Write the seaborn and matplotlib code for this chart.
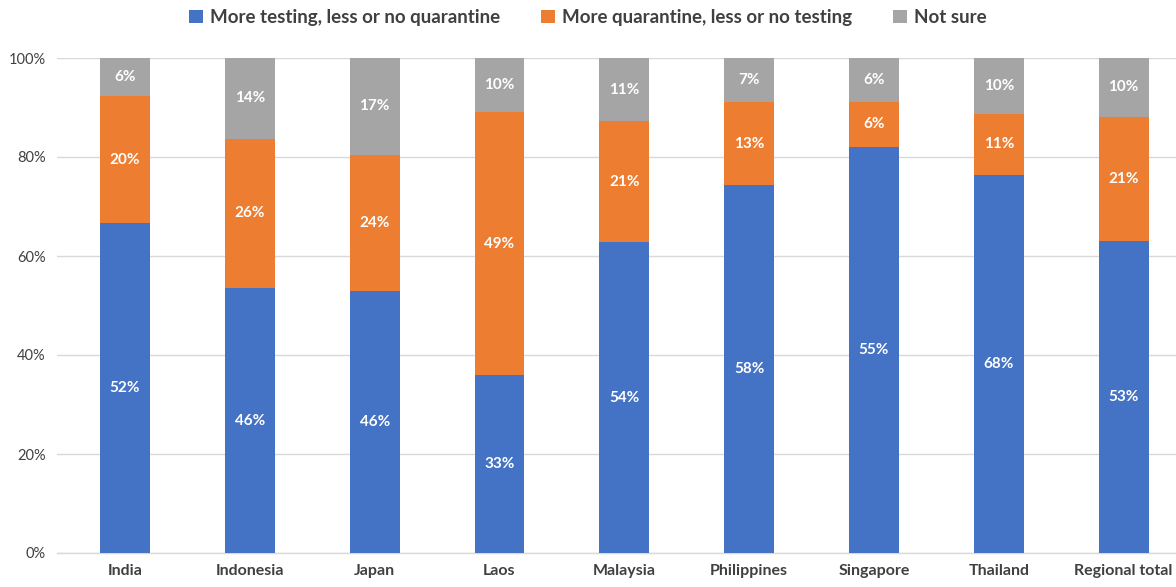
import numpy as np
import pandas as pd
import matplotlib
matplotlib.use("Agg")
import matplotlib.pyplot as plt
import seaborn as sns
from matplotlib.patches import Patch

# Data (labels as printed; bars are scaled so each column sums to 100%)
countries = ["India", "Indonesia", "Japan", "Laos", "Malaysia",
             "Philippines", "Singapore", "Thailand", "Regional total"]
more_testing = [52, 46, 46, 33, 54, 58, 55, 68, 53]
more_quarantine = [20, 26, 24, 49, 21, 13, 6, 11, 21]
not_sure = [6, 14, 17, 10, 11, 7, 6, 10, 10]

series_names = ["More testing, less or no quarantine",
                "More quarantine, less or no testing",
                "Not sure"]
colors = ["#4472C4", "#ED7D31", "#A5A5A5"]

df = pd.DataFrame({
    "country": countries,
    "test": more_testing,
    "quar": more_quarantine,
    "unsure": not_sure,
})
total = df["test"] + df["quar"] + df["unsure"]
df["p_test"] = df["test"] / total * 100
df["p_quar"] = df["quar"] / total * 100
df["p_unsure"] = df["unsure"] / total * 100
df["top_test"] = df["p_test"]
df["top_quar"] = df["p_test"] + df["p_quar"]
df["top_unsure"] = df["top_quar"] + df["p_unsure"]

sns.set_style("white")
plt.rcParams["font.family"] = ["Lato", "DejaVu Sans"]

fig = plt.figure(figsize=(11.76, 5.87), dpi=100)
ax = fig.add_axes([57 / 1176, 34 / 587, 1119 / 1176, 495 / 587])

w = 0.40
# draw from tallest layer down so each stack shows correctly
for col, c in zip(["top_unsure", "top_quar", "top_test"], colors[::-1]):
    sns.barplot(data=df, x="country", y=col, color=c, width=w,
                saturation=1, ax=ax, order=countries, zorder=3,
                linewidth=0, edgecolor="none")

# segment labels
for i, row in df.iterrows():
    segs = [(0, row["top_test"], row["test"]),
            (row["top_test"], row["top_quar"], row["quar"]),
            (row["top_quar"], row["top_unsure"], row["unsure"])]
    for lo, hi, val in segs:
        ax.text(i, (lo + hi) / 2, f"{val}%", ha="center", va="center",
                color="white", fontsize=11, fontweight="bold", zorder=5)

ax.set_xlim(-0.545, 8.42)
ax.set_ylim(0, 100)
ax.set_yticks(np.arange(0, 101, 20))
ax.set_yticklabels([f"{t}%" for t in range(0, 101, 20)])
ax.yaxis.grid(True, color="#D9D9D9", linewidth=1, zorder=0)
ax.set_axisbelow(True)
for s in ["top", "right", "left"]:
    ax.spines[s].set_visible(False)
ax.spines["bottom"].set_color("#D9D9D9")
ax.spines["bottom"].set_linewidth(1)
ax.tick_params(axis="both", length=0)
ax.tick_params(axis="x", pad=8, labelsize=11.5, labelcolor="#404040")
ax.tick_params(axis="y", pad=8, labelsize=10.5, labelcolor="#404040")
for lab in ax.get_xticklabels():
    lab.set_fontweight("bold")
ax.set_xlabel("")
ax.set_ylabel("")

handles = [Patch(facecolor=c, edgecolor="none", label=n)
           for c, n in zip(colors, series_names)]
fig.legend(handles=handles, loc="center", bbox_to_anchor=(0.5, 0.97),
           ncol=3, frameon=False, handlelength=0.7, handleheight=0.7,
           handletextpad=0.4, columnspacing=2.2,
           prop={"size": 13.5, "weight": "bold"}, labelcolor="#404040")

fig.savefig("out.png", dpi=100)
